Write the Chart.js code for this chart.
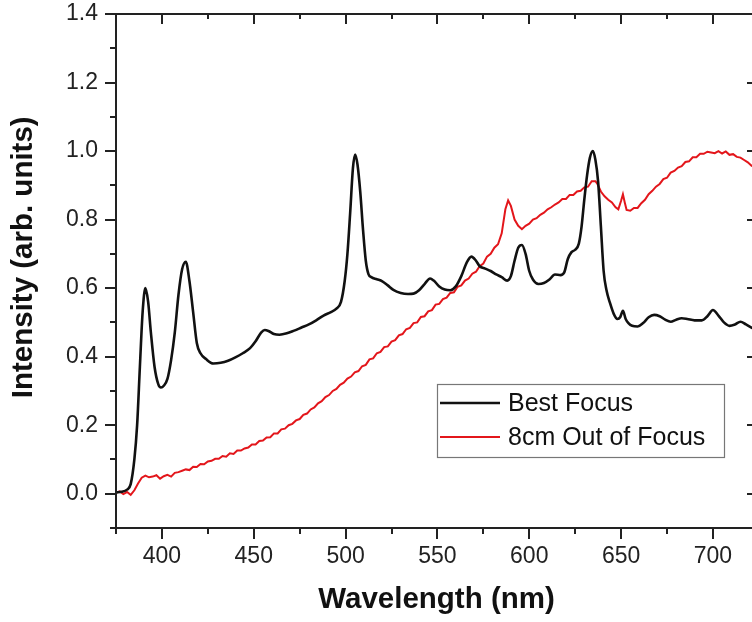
<!DOCTYPE html>
<html>
<head>
<meta charset="utf-8">
<title>Spectrum</title>
<script src="https://cdn.jsdelivr.net/npm/chart.js@4.4.0/dist/chart.umd.min.js"></script>
<style>
  html, body { margin: 0; padding: 0; background: #fff; overflow: hidden; }
  #wrap { position: relative; width: 762px; height: 622px; }
</style>
</head>
<body>
<div id="wrap"><canvas id="spectrum"></canvas></div>
<script>
// Best focus spectrum (nm, arb. units)
const bestWavelength = [
  375, 378, 381, 383, 385, 386.5, 388, 389.5, 391, 392.5, 394, 396, 398, 399.5, 401, 403, 405, 407, 409, 411,
  413, 415, 417, 419, 421, 424, 428, 432, 436, 440, 444, 448, 451, 454, 456, 458, 461, 464, 468, 472,
  476, 480, 484, 488, 492, 495, 497.5, 499.5, 501, 502.5, 504, 505.2, 506.5, 508, 509.5, 511, 512.5, 514, 517, 520,
  523, 526, 530, 534, 537, 540, 543, 546, 548, 551, 554, 557, 560, 563, 566, 568.5, 571, 573, 576, 579,
  582, 585, 588, 590, 592, 594, 596, 598, 600, 602, 605, 608, 611, 614, 617, 619, 621, 623, 625, 627,
  628.5, 630, 631.5, 633, 634.6, 636, 637.5, 639, 640.5, 642, 644, 646, 648, 649.5, 651, 652.5, 654, 656, 659, 662,
  665, 668, 671, 674, 677, 680, 683, 686, 690, 694, 697, 700, 703, 706, 709, 712, 715, 718, 722, 725
];
const bestIntensity = [
  0.004, 0.006, 0.012, 0.028, 0.10, 0.20, 0.37, 0.53, 0.60, 0.56, 0.47, 0.37, 0.32, 0.31, 0.315, 0.335, 0.39, 0.47, 0.58, 0.655,
  0.677, 0.62, 0.53, 0.44, 0.41, 0.393, 0.38, 0.382, 0.388, 0.398, 0.41, 0.425, 0.445, 0.47, 0.478, 0.475, 0.466, 0.464, 0.468, 0.476,
  0.485, 0.494, 0.506, 0.52, 0.53, 0.54, 0.56, 0.62, 0.70, 0.82, 0.95, 0.99, 0.96, 0.88, 0.77, 0.68, 0.64, 0.632, 0.626, 0.62,
  0.608, 0.595, 0.586, 0.583, 0.584, 0.594, 0.612, 0.628, 0.622, 0.605, 0.596, 0.594, 0.605, 0.635, 0.675, 0.692, 0.68, 0.664, 0.657, 0.65,
  0.64, 0.632, 0.622, 0.635, 0.68, 0.718, 0.726, 0.70, 0.65, 0.625, 0.612, 0.615, 0.625, 0.64, 0.638, 0.645, 0.685, 0.705, 0.712, 0.73,
  0.78, 0.86, 0.93, 0.98, 1.00, 0.975, 0.91, 0.78, 0.65, 0.595, 0.556, 0.525, 0.51, 0.515, 0.534, 0.51, 0.498, 0.49, 0.488, 0.498,
  0.515, 0.522, 0.518, 0.508, 0.502, 0.508, 0.512, 0.51, 0.506, 0.506, 0.518, 0.536, 0.52, 0.50, 0.49, 0.494, 0.502, 0.494, 0.482, 0.478
];

// 8 cm out of focus spectrum (noisy)
const defocusWavelength = [
  375, 377, 379, 381, 383, 385, 387, 389, 391, 393, 395, 397, 399, 401, 403, 405, 407, 409, 411, 413,
  415, 417, 419, 421, 423, 425, 427, 429, 431, 433, 435, 437, 439, 441, 443, 445, 447, 449, 451, 453,
  455, 457, 459, 461, 463, 465, 467, 469, 471, 473, 475, 477, 479, 481, 483, 485, 487, 489, 491, 493,
  495, 497, 499, 501, 503, 505, 507, 509, 511, 513, 515, 517, 519, 521, 523, 525, 527, 529, 531, 533,
  535, 537, 539, 541, 543, 545, 547, 549, 551, 553, 555, 557, 559, 561, 563, 565, 567, 569, 571, 573,
  575, 577, 579, 581, 583, 585, 587, 588.5, 590, 592, 594, 596, 598, 600, 602, 604, 606, 608, 610, 612,
  614, 616, 618, 620, 622, 624, 626, 628, 630, 632, 634, 636, 637, 639, 641, 643, 645, 647, 648.5, 650,
  651, 652, 653, 655, 657, 659, 661, 663, 665, 667, 669, 671, 673, 675, 677, 679, 681, 683, 685, 687,
  689, 691, 693, 695, 697, 699, 701, 703, 705, 707, 709, 711, 713, 715, 717, 719, 721, 723, 725
];
const defocusIntensity = [
  0.003, 0.007, -0.001, 0.005, -0.003, 0.010, 0.030, 0.047, 0.053, 0.048, 0.050, 0.054, 0.044, 0.051, 0.055, 0.050, 0.061, 0.063, 0.067, 0.071,
  0.069, 0.079, 0.078, 0.087, 0.086, 0.094, 0.096, 0.102, 0.102, 0.110, 0.108, 0.118, 0.116, 0.126, 0.126, 0.132, 0.135, 0.144, 0.144, 0.154,
  0.155, 0.164, 0.165, 0.176, 0.176, 0.188, 0.190, 0.200, 0.204, 0.214, 0.218, 0.230, 0.234, 0.246, 0.252, 0.264, 0.270, 0.282, 0.288, 0.300,
  0.306, 0.318, 0.324, 0.336, 0.342, 0.354, 0.358, 0.372, 0.376, 0.392, 0.395, 0.410, 0.414, 0.428, 0.430, 0.444, 0.448, 0.462, 0.466, 0.480,
  0.484, 0.498, 0.500, 0.516, 0.518, 0.532, 0.536, 0.552, 0.554, 0.568, 0.572, 0.586, 0.588, 0.604, 0.608, 0.622, 0.628, 0.642, 0.648, 0.664,
  0.672, 0.692, 0.700, 0.718, 0.728, 0.760, 0.830, 0.856, 0.840, 0.800, 0.782, 0.772, 0.782, 0.788, 0.800, 0.804, 0.814, 0.820, 0.830, 0.836,
  0.844, 0.850, 0.860, 0.860, 0.872, 0.872, 0.882, 0.884, 0.894, 0.896, 0.912, 0.912, 0.905, 0.882, 0.868, 0.858, 0.850, 0.836, 0.830, 0.855,
  0.874, 0.850, 0.828, 0.826, 0.834, 0.834, 0.848, 0.858, 0.874, 0.884, 0.896, 0.904, 0.918, 0.922, 0.937, 0.942, 0.952, 0.956, 0.968, 0.970,
  0.982, 0.982, 0.992, 0.992, 0.998, 0.996, 0.994, 1.000, 0.993, 0.999, 0.989, 0.991, 0.983, 0.981, 0.974, 0.967, 0.957, 0.951, 0.944
];

const seriesLabels = ['Best Focus', '8cm Out of Focus'];
const seriesColors = ['#111111', '#e3161b'];
const yTitle = 'Intensity (arb. units)';

const xMajorTicks = [400, 450, 500, 550, 600, 650, 700];
const xMinorTicks = [375, 425, 475, 525, 575, 625, 675];
const yMajorTicks = [0.0, 0.2, 0.4, 0.6, 0.8, 1.0, 1.2, 1.4];
const yMinorTicks = [-0.1, 0.1, 0.3, 0.5, 0.7, 0.9, 1.1, 1.3];

const FONT = "'Liberation Sans', Arial, Helvetica, sans-serif";

function toPoints(xs, ys) {
  return xs.map((x, i) => ({ x: x, y: ys[i] }));
}

// box around the plot, tick marks on all four sides, y title and the legend
const framePlugin = {
  id: 'frame',
  afterDatasetsDraw(chart) {
    const { ctx, chartArea: a, scales: { x, y } } = chart;
    ctx.save();
    ctx.strokeStyle = '#222';
    ctx.lineWidth = 2;
    ctx.strokeRect(a.left, a.top, a.right - a.left, a.bottom - a.top);

    ctx.beginPath();
    xMajorTicks.forEach(v => {
      const px = Math.round(x.getPixelForValue(v));
      ctx.moveTo(px, a.bottom); ctx.lineTo(px, a.bottom + 11);
      ctx.moveTo(px, a.top); ctx.lineTo(px, a.top + 10);
    });
    xMinorTicks.forEach(v => {
      const px = Math.round(x.getPixelForValue(v));
      ctx.moveTo(px, a.bottom); ctx.lineTo(px, a.bottom + 6);
      ctx.moveTo(px, a.top); ctx.lineTo(px, a.top + 5);
    });
    yMajorTicks.forEach(v => {
      const py = Math.round(y.getPixelForValue(v));
      ctx.moveTo(a.left - 11, py); ctx.lineTo(a.left, py);
      ctx.moveTo(a.right, py); ctx.lineTo(a.right - 10, py);
    });
    yMinorTicks.forEach(v => {
      const py = Math.round(y.getPixelForValue(v));
      ctx.moveTo(a.left - 6, py); ctx.lineTo(a.left, py);
      ctx.moveTo(a.right, py); ctx.lineTo(a.right - 5, py);
    });
    ctx.stroke();

    // y title sits a little above the middle of the axis
    ctx.save();
    ctx.translate(24, y.getPixelForValue(0.69));
    ctx.rotate(-Math.PI / 2);
    ctx.font = 'bold 29.5px ' + FONT;
    ctx.fillStyle = '#111';
    ctx.textAlign = 'center';
    ctx.textBaseline = 'middle';
    ctx.fillText(yTitle, 0, 0);
    ctx.restore();

    // legend
    const box = { left: 437, top: 384, width: 287, height: 73 };
    ctx.fillStyle = '#fff';
    ctx.fillRect(box.left, box.top, box.width, box.height);
    ctx.strokeStyle = '#777';
    ctx.lineWidth = 1.2;
    ctx.strokeRect(box.left + 0.5, box.top + 0.5, box.width, box.height);
    ctx.font = '25px ' + FONT;
    ctx.textBaseline = 'middle';
    ctx.textAlign = 'left';
    chart.data.datasets.forEach((ds, i) => {
      const rowY = box.top + 19 + i * 34;
      ctx.strokeStyle = ds.borderColor;
      ctx.lineWidth = ds.borderWidth;
      ctx.beginPath();
      ctx.moveTo(box.left + 3, rowY);
      ctx.lineTo(box.left + 63, rowY);
      ctx.stroke();
      ctx.fillStyle = '#111';
      ctx.fillText(ds.label, box.left + 71, rowY + 1);
    });
    ctx.restore();
  }
};

new Chart(document.getElementById('spectrum'), {
  type: 'line',
  data: {
    datasets: [
      {
        label: seriesLabels[0],
        data: toPoints(bestWavelength, bestIntensity),
        borderColor: seriesColors[0],
        borderWidth: 2.6,
        pointRadius: 0,
        cubicInterpolationMode: 'monotone'
      },
      {
        label: seriesLabels[1],
        data: toPoints(defocusWavelength, defocusIntensity),
        borderColor: seriesColors[1],
        borderWidth: 2,
        pointRadius: 0,
        tension: 0
      }
    ]
  },
  options: {
    responsive: true,
    maintainAspectRatio: false,
    animation: false,
    events: [],
    layout: { padding: { top: 14, right: 5, left: 0, bottom: 0 } },
    plugins: {
      legend: { display: false },
      tooltip: { enabled: false }
    },
    scales: {
      x: {
        type: 'linear',
        min: 375,
        max: 724,
        afterBuildTicks: s => { s.ticks = xMajorTicks.map(v => ({ value: v })); },
        afterFit: s => { s.height = 94; s.paddingLeft = 0; s.paddingRight = 0; },
        grid: { display: false, drawTicks: true, tickLength: 11 },
        border: { display: false },
        ticks: {
          font: { family: FONT, size: 23 },
          color: '#222',
          padding: 4,
          maxRotation: 0,
          callback: v => String(v)
        },
        title: {
          display: true,
          text: 'Wavelength (nm)',
          font: { family: FONT, size: 29.5, weight: 'bold' },
          color: '#111',
          padding: { top: 0, bottom: 4 }
        }
      },
      y: {
        type: 'linear',
        min: -0.1,
        max: 1.4,
        afterBuildTicks: s => { s.ticks = yMajorTicks.map(v => ({ value: v })); },
        afterFit: s => { s.width = 116; s.paddingTop = 0; s.paddingBottom = 0; },
        grid: { display: false, drawTicks: true, tickLength: 11 },
        border: { display: false },
        ticks: {
          font: { family: FONT, size: 23 },
          color: '#222',
          padding: 7,
          callback: v => Number(v).toFixed(1)
        },
        title: { display: false }
      }
    }
  },
  plugins: [framePlugin]
});
</script>
</body>
</html>
